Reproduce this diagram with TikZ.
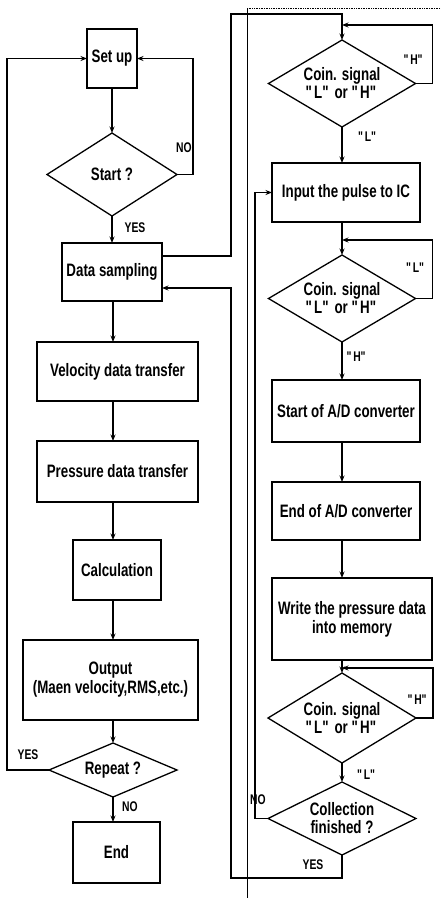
\documentclass[tikz,border=0pt]{standalone}
\usepackage{fontspec}
\setmainfont[FakeStretch=0.74]{Liberation Sans}
\usetikzlibrary{arrows.meta,shapes.geometric,calc}
\newcommand{\qt}[1]{\textquotedbl#1\textquotedbl}

\begin{document}
\begin{tikzpicture}[x=1pt,y=-1pt,
  box/.style={draw,line width=1.3pt,inner sep=2pt,outer sep=0pt,align=center,font=\fontsize{18}{19}\selectfont\bfseries},
  decision/.style={draw,diamond,shape aspect=1.7,line width=1.3pt,inner sep=0pt,outer sep=0pt,align=center,font=\fontsize{18}{18}\selectfont\bfseries},
  arr/.style={line width=1.3pt,-{Stealth[length=6.5pt,width=5pt]}},
  lbl/.style={font=\fontsize{14}{15}\selectfont\bfseries,inner sep=0pt}]
  \useasboundingbox (0,0) rectangle (441,900);
  \node[box,minimum width=50pt,minimum height=59pt] (Set) at (112,58.5) {Set up};
  \node[decision,minimum width=130pt,minimum height=83pt] (Start) at (112,174.5) {Start ?};
  \node[box,minimum width=100pt,minimum height=58pt] (DS) at (112,272) {Data sampling};
  \node[box,minimum width=161pt,minimum height=59pt] (V) at (117.5,371.5) {Velocity data transfer};
  \node[box,minimum width=161pt,minimum height=61pt] (P) at (117.5,471.5) {Pressure data transfer};
  \node[box,minimum width=88pt,minimum height=60pt] (Calc) at (117,570) {Calculation};
  \node[box,minimum width=175pt,minimum height=80pt] (Out) at (110.5,680) {Output\\(Maen velocity,RMS,etc.)};
  \node[decision,minimum width=128pt,minimum height=54pt] (Rep) at (113,770) {Repeat ?};
  \node[box,minimum width=87pt,minimum height=61pt] (End) at (116.5,852.5) {End};
  \node[decision,minimum width=147pt,minimum height=87pt] (C1) at (342,83.5) {Coin. signal\\\qt{L} or \qt{H}};
  \node[box,minimum width=148pt,minimum height=59pt] (In) at (346,192.5) {Input the pulse to IC};
  \node[decision,minimum width=147pt,minimum height=87pt] (C2) at (342,298.5) {Coin. signal\\\qt{L} or \qt{H}};
  \node[box,minimum width=148pt,minimum height=62pt] (AD1) at (346,411) {Start of A/D converter};
  \node[box,minimum width=148pt,minimum height=58pt] (AD2) at (346,511) {End of A/D converter};
  \node[box,minimum width=160pt,minimum height=82pt] (W) at (352,619) {Write the pressure data\\into memory};
  \node[decision,minimum width=148pt,minimum height=90pt] (C3) at (342,718) {Coin. signal\\\qt{L} or \qt{H}};
  \node[decision,minimum width=148pt,minimum height=73pt] (Fin) at (342,818.5) {Collection\\finished ?};
  \node[lbl] (StartNo) at (184,148) {NO};
  \node[lbl] (StartYes) at (135,228) {YES};
  \node[lbl] (RepYes) at (28,755) {YES};
  \node[lbl] (RepNo) at (130,807) {NO};
  \node[lbl] (C1H) at (414,60) {\qt{H}};
  \node[lbl] (C1L) at (368,137) {\qt{L}};
  \node[lbl] (C2L) at (416,268) {\qt{L}};
  \node[lbl] (C2H) at (357,357) {\qt{H}};
  \node[lbl] (C3H) at (418,700) {\qt{H}};
  \node[lbl] (C3L) at (367,775) {\qt{L}};
  \node[lbl] (FinNo) at (258,800) {NO};
  \node[lbl] (FinYes) at (313,865) {YES};
  \coordinate (T) at (231,14);
  \coordinate (B) at (231,878);
  \draw[arr] (Set.south) -- (Start.north);
  \draw[arr] (Start.south) -- (DS.north);
  \draw[arr] (Start.east) -- ++(16,0) |- (Set.east);
  \draw[arr] (DS.south -| Rep.north) -- (V.north -| Rep.north);
  \draw[arr] (V.south -| Rep.north) -- (P.north -| Rep.north);
  \draw[arr] (P.south -| Rep.north) -- (Calc.north -| Rep.north);
  \draw[arr] (Calc.south -| Rep.north) -- (Out.north -| Rep.north);
  \draw[arr] (Out.south -| Rep.north) -- (Rep.north);
  \draw[arr] (Rep.south) -- (Rep.south |- End.north);
  \draw[arr] (Rep.west) -- ++(-42,0) |- (Set.west);
  \draw[arr] ($(DS.east)+(0,-16)$) -| (T) -| (C1.north);
  \draw[arr] (C1.east) -- ++(17,0) |- ($(C1.north)+(0,-15)$);
  \draw[arr] (C1.south) -- (C1.south |- In.north);
  \draw[arr] (In.south -| C2.north) -- (C2.north);
  \draw[arr] (C2.east) -- ++(17,0) |- ($(C2.north)+(0,-15)$);
  \draw[arr] (C2.south) -- (C2.south |- AD1.north);
  \draw[arr] (AD1.south -| C2.south) -- (AD2.north -| C2.south);
  \draw[arr] (AD2.south -| C2.south) -- (W.north -| C2.south);
  \draw[arr] (W.south -| C3.north) -- (C3.north);
  \draw[arr] (C3.east) -- ++(17,0) |- ($(C3.north)+(0,-5)$);
  \draw[arr] (C3.south) -- (Fin.north);
  \draw[arr] (Fin.west) -- ++(-13,0) |- (In.west);
  \draw[arr] (Fin.south) |- (B) |- ($(DS.east)+(0,16)$);
  \draw[line width=0.7pt] (247,8) -- (247,898);
  \draw[line width=0.7pt,densely dotted] (247,8) -- (441,8);
\end{tikzpicture}
\end{document}
